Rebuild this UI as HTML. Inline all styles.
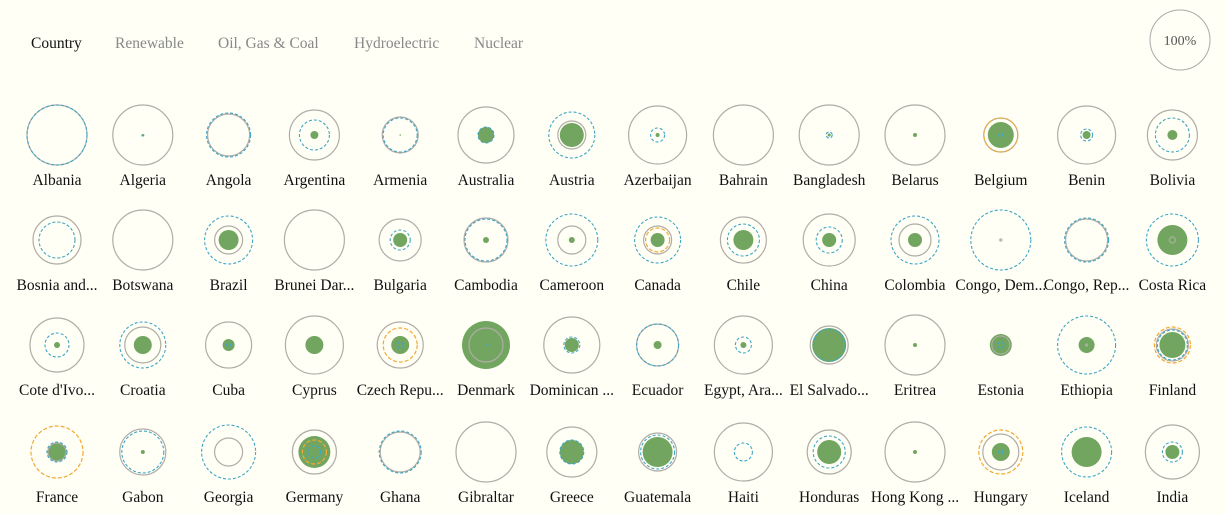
<!DOCTYPE html>
<html><head><meta charset="utf-8"><style>
body{margin:0;background:#fffff6;}
svg{display:block;font-family:"Liberation Serif",serif;}
</style></head><body>
<svg id="chart" width="1225" height="514">
<rect width="1225" height="514" fill="#fffff6"/>
<g font-size="15.5">
<text x="31" y="48" fill="#111">Country</text>
<text x="115" y="48" fill="#888">Renewable</text>
<text x="218" y="48" fill="#888">Oil, Gas &amp; Coal</text>
<text x="354" y="48" fill="#888">Hydroelectric</text>
<text x="474" y="48" fill="#888">Nuclear</text>
</g>
<g>
<circle cx="1180" cy="40" r="30" fill="none" stroke="#aaa"/>
<text x="1180" y="45" text-anchor="middle" font-size="14" fill="#555">100%</text>
</g>
<g id="cells"></g>
</svg>
<script>
const countries=["Albania","Algeria","Angola","Argentina","Armenia","Australia","Austria","Azerbaijan","Bahrain","Bangladesh","Belarus","Belgium","Benin","Bolivia",
"Bosnia and...","Botswana","Brazil","Brunei Dar...","Bulgaria","Cambodia","Cameroon","Canada","Chile","China","Colombia","Congo, Dem...","Congo, Rep...","Costa Rica",
"Cote d'Ivo...","Croatia","Cuba","Cyprus","Czech Repu...","Denmark","Dominican ...","Ecuador","Egypt, Ara...","El Salvado...","Eritrea","Estonia","Ethiopia","Finland",
"France","Gabon","Georgia","Germany","Ghana","Gibraltar","Greece","Guatemala","Haiti","Honduras","Hong Kong ...","Hungary","Iceland","India"];
// radii in px (scale: 30 = 100%)
const fossil=[30,30,21,25,18,28,14,29,30,30,30,17,29,25, 24,30,14,30,21,22,14,14,23,26,16,1,21,3, 27,18,23,29,23,17,28,21,29,19,30,9,1,16, 9,23,14,22,20,30,25,19,29,22,30,18,0,27];
const renewable=[0,1,0,4,0.8,8,12,2,0,1.5,2,13,4,5, 0,0,10,0,7,3,3,7,10,7,7,0,0,15, 3,9,6,9,9,24,7,4,3,17,2,11,8,13, 9,2,0,16,0,0,12,15,0,12,2,9,15,7];
const hydro=[30,1,22,15,17,8,23,7,0,3,0,2,6,17, 18,0,24,0,10,21,26,23,16,13,24,30,22,26, 12,23,2,0,3,0.5,8,21,8,16,0,3,29,15, 10,21,27,6,21,0,12,17,9,16,0,2,25,10];
const nuclear=[0,0,0,0,0,0,0,0,0,0,0,17,0,0, 0,0,0,0,0,0,0,12,0,0,0,0,0,0, 0,0,0,0,17,0,0,0,0,0,0,0,0,18, 26,0,0,12,0,0,0,0,0,0,0,22,0,0];
const NS="http://www.w3.org/2000/svg";
const g=document.getElementById('cells');
const colX=i=>57+i*85.8, rowY=j=>[135,240,345,452][j];
function mk(tag,attrs){const e=document.createElementNS(NS,tag);for(const k in attrs)e.setAttribute(k,attrs[k]);return e;}
countries.forEach((c,i)=>{
 const cx=colX(i%14), cy=rowY(Math.floor(i/14));
 const cell=mk('g',{});
 
 
 if(renewable[i]>0){const e=mk('circle',{cx,cy,r:renewable[i],fill:'#72a660'});
  
  cell.appendChild(e);}
 if(fossil[i]>0){const e=mk('circle',{cx,cy,r:fossil[i],fill:'none',stroke:'#b0aca6','stroke-width':1.2});
  
  cell.appendChild(e);}
 if(hydro[i]>0){const e=mk('circle',{cx,cy,r:hydro[i],fill:'none',stroke:'#3fa5c6','stroke-width':1.1,'stroke-dasharray':'3,2'});
  
  cell.appendChild(e);}
 if(nuclear[i]>0){const e=mk('circle',{cx,cy,r:nuclear[i],fill:'none',stroke:'#f2a933','stroke-width':1.2,'stroke-dasharray':'4,2'});
  
  cell.appendChild(e);}
 const t=mk('text',{x:cx,y:cy+50,'text-anchor':'middle','font-size':15.5,fill:'#111'});
 t.textContent=c;
 
 
 cell.appendChild(t);
 g.appendChild(cell);
});
</script>
</body></html>
